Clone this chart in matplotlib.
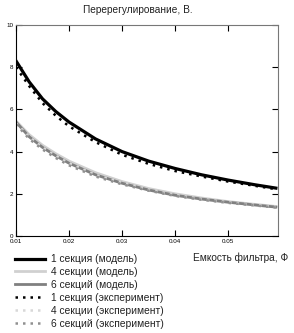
import numpy as np
import matplotlib
matplotlib.use("Agg")
import matplotlib.pyplot as plt

plt.rcParams['font.family'] = ['Liberation Sans', 'DejaVu Sans']

# емкость фильтра, Ф
c = [0.010, 0.0125, 0.015, 0.0175, 0.020, 0.025, 0.030, 0.035, 0.040, 0.045, 0.050, 0.055, 0.059]

# модель
m1 = [8.3, 7.3, 6.5, 5.9, 5.4, 4.6, 4.0, 3.55, 3.2, 2.9, 2.65, 2.43, 2.27]
m4 = [5.45, 4.8, 4.3, 3.9, 3.55, 3.0, 2.58, 2.25, 2.0, 1.8, 1.63, 1.5, 1.4]
m6 = [5.4, 4.7, 4.2, 3.8, 3.45, 2.9, 2.5, 2.18, 1.93, 1.75, 1.6, 1.47, 1.37]

# эксперимент
e1 = [8.0, 7.1, 6.3, 5.7, 5.2, 4.45, 3.85, 3.42, 3.08, 2.82, 2.58, 2.38, 2.22]
e4 = [5.35, 4.7, 4.2, 3.8, 3.45, 2.9, 2.52, 2.2, 1.95, 1.76, 1.6, 1.48, 1.38]
e6 = [5.3, 4.6, 4.1, 3.7, 3.35, 2.82, 2.45, 2.15, 1.9, 1.72, 1.57, 1.45, 1.35]

xticks = [0.01, 0.02, 0.03, 0.04, 0.05]
yticks = [0, 2, 4, 6, 8, 10]

fig = plt.figure(figsize=(2.94, 3.33), dpi=100)
ax = fig.add_axes([16/294, 1-236/333, 262/294, 211/333])

ax.plot(c, m1, color='black', lw=2.3, label='1 секция (модель)')
ax.plot(c, m4, color='#d0d0d0', lw=2.0, label='4 секции (модель)')
ax.plot(c, m6, color='#808080', lw=2.0, label='6 секций (модель)')
ax.plot(c, e1, color='black', lw=1.8, ls=(0, (1, 2)), label='1 секция (эксперимент)')
ax.plot(c, e4, color='#d8d8d8', lw=1.8, ls=(0, (1, 2)), label='4 секции (эксперимент)')
ax.plot(c, e6, color='#909090', lw=1.8, ls=(0, (1, 2)), label='6 секций (эксперимент)')

ax.set_xlim(0.01, 0.0594)
ax.set_ylim(0, 10)
ax.set_xticks(xticks)
ax.set_yticks(yticks)
ax.set_xticklabels(['0.01', '0.02', '0.03', '0.04', '0.05'])
ax.tick_params(direction='in', length=4, width=0.8, labelsize=4.5, pad=2,
               top=True, right=True)
for s in ax.spines.values():
    s.set_linewidth(0.8)
ax.spines['right'].set_color('#777777')
ax.spines['top'].set_color('#777777')

fig.text(138/294, 1-10/333, 'Перерегулирование, В.', ha='center', va='center',
         fontsize=7.3, color='#222222')
fig.text(288/294, 1-258/333, 'Емкость фильтра, Ф', ha='right', va='center',
         fontsize=7.3, color='#222222')

fig.legend(loc='upper left', bbox_to_anchor=(10/294, 1-249/333), frameon=False,
           fontsize=7.4, handlelength=2.9, labelspacing=0.28, borderpad=0,
           handletextpad=0.6, labelcolor='#222222')

fig.savefig('out.png', dpi=100)
